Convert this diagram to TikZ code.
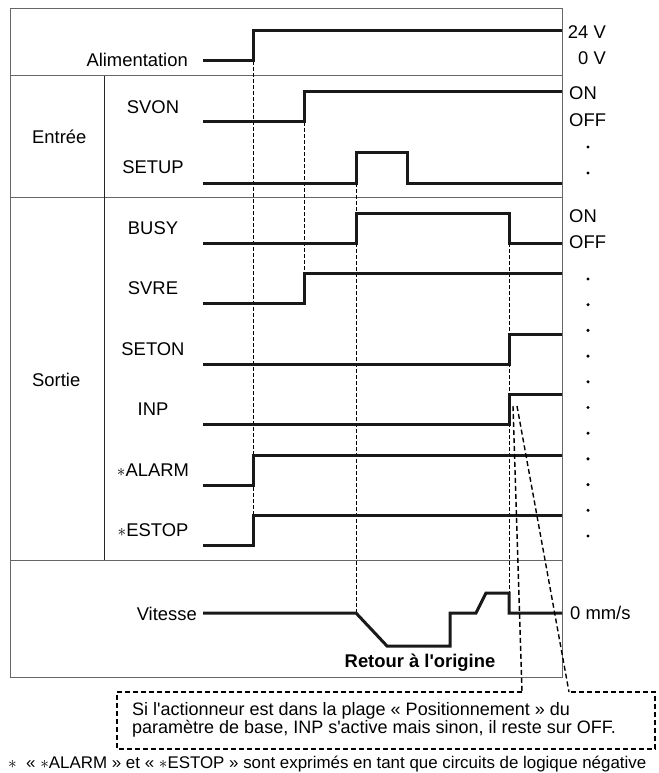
\documentclass[tikz,border=0pt]{standalone}
\usepackage{fontspec}
\newfontfamily\labfont{Liberation Sans}

\begin{document}
\begin{tikzpicture}[x=1pt,y=-1pt,
    every node/.style={font=\labfont\fontsize{18.4}{18.5}\selectfont,inner sep=0pt},
    frame/.style={black!60,line width=1pt},
    sig/.style={black!90,line width=3pt},
    guide/.style={black,line width=0.9pt,dash pattern=on 4pt off 2pt},
    callout/.style={black,line width=1.4pt,dash pattern=on 5pt off 3pt}]
    \useasboundingbox (0,0) rectangle (658,773);

    % frame
    \draw[frame] (10,9) rectangle (562,677);
    \draw[frame] (10,76) -- (562,76);
    \draw[frame] (10,197) -- (562,197);
    \draw[frame] (10,560) -- (562,560);
    \draw[black!85,line width=1pt] (104,76) -- (104,560);

    % timing guides
    \draw[guide] (253,61) -- (253,515);
    \draw[guide] (304,122) -- (304,273);
    \draw[guide] (356,183) -- (356,613);
    \draw[guide] (509,243) -- (509,593);

    % signals
    \draw[sig] (203,61) -- (253,61) -- (253,31) -- (562,31);
    \draw[sig] (203,122) -- (304,122) -- (304,92) -- (562,92);
    \draw[sig] (203,183) -- (356,183) -- (356,152) -- (407,152) -- (407,183) -- (562,183);
    \draw[sig] (203,243) -- (356,243) -- (356,213) -- (509,213) -- (509,243) -- (562,243);
    \draw[sig] (203,303) -- (304,303) -- (304,273) -- (562,273);
    \draw[sig] (203,364) -- (509,364) -- (509,334) -- (562,334);
    \draw[sig] (203,424) -- (509,424) -- (509,394) -- (562,394);
    \draw[sig] (203,485) -- (253,485) -- (253,455) -- (562,455);
    \draw[sig] (203,545) -- (253,545) -- (253,515) -- (562,515);
    \draw[sig] (203,613) -- (356,613) -- (387,646) -- (450,646) -- (450,613) -- (476,613)
        -- (486,593) -- (509,593) -- (509,613) -- (562,613);

    % left labels
    \node[anchor=base east] (alim) at (188,66.7) {Alimentation};
    \node[anchor=base west] (entree) at (32,143.3) {Entrée};
    \node[anchor=base west] (sortie) at (32,386.5) {Sortie};
    \node[anchor=base] (svon) at (153,113.3) {SVON};
    \node[anchor=base] (setup) at (153,173.3) {SETUP};
    \node[anchor=base] (busy) at (153,234.3) {BUSY};
    \node[anchor=base] (svre) at (153,294.3) {SVRE};
    \node[anchor=base] (seton) at (153,355.7) {SETON};
    \node[anchor=base] (inp) at (153,415.3) {INP};
    \node[anchor=base] (alarm) at (153,476.7) {$\ast$ALARM};
    \node[anchor=base] (estop) at (153,536.7) {$\ast$ESTOP};
    \node[anchor=base east] (vitesse) at (197,620.7) {Vitesse};
    \node[anchor=base,font=\labfont\bfseries\fontsize{18.4}{18.5}\selectfont] (retour) at (420,667) {Retour à l'origine};

    % right labels
    \node[anchor=base east] (v24) at (606,38.3) {24 V};
    \node[anchor=base east] (v0) at (606,64.3) {0 V};
    \node[anchor=base west] (on1) at (569,100) {ON};
    \node[anchor=base west] (off1) at (569,126.7) {OFF};
    \node[anchor=base west] (on2) at (569,222.7) {ON};
    \node[anchor=base west] (off2) at (569,248.3) {OFF};
    \node[anchor=base west] (zero) at (570,619) {0 mm/s};
    \foreach \y in {147,173}
        \fill (588,\y) circle (1.7);
    \foreach \k in {0,...,10}
        \fill (588,{279+25.7*\k}) circle (1.7);

    % note on INP
    \coordinate (inpA) at (513,406);
    \coordinate (inpB) at (517,406);
    \coordinate (boxA) at (522,692);
    \coordinate (boxB) at (569,692);
    \draw[callout] (boxA) -- (117,692) -- (117,749) -- (655,749) -- (655,692) -- (boxB);
    \draw[callout] (inpA) -- (boxA);
    \draw[callout] (inpB) -- (boxB);
    \node[anchor=base west,align=left,font=\labfont\fontsize{18}{18.5}\selectfont] (note) at (132,733.5)
        {Si l'actionneur est dans la plage « Positionnement » du\\paramètre de base, INP s'active mais sinon, il reste sur OFF.};

    \node[anchor=base west,font=\labfont\fontsize{16.9}{18}\selectfont] (foot) at (8,768.5)
        {$\ast$~ « $\ast$ALARM » et « $\ast$ESTOP » sont exprimés en tant que circuits de logique négative};
\end{tikzpicture}
\end{document}
